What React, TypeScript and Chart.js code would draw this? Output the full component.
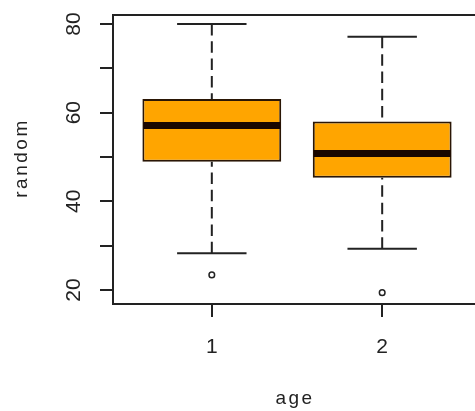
import React, { useEffect, useRef } from "react";
import { Chart, registerables } from "chart.js";

Chart.register(...registerables);

const CATEGORIES = ["1", "2"];
const WHISKER_LOW = [28.3, 29.3];
const Q1 = [48.9, 45.3];
const MEDIAN = [57.1, 50.8];
const Q3 = [63.1, 58.0];
const WHISKER_HIGH = [80.0, 77.1];
const OUTLIERS = [[23.4], [19.4]];
const Y_TICKS = [20, 30, 40, 50, 60, 70, 80];
const Y_LABELED = [20, 40, 60, 80];
const X_TITLE = "age";
const Y_TITLE = "random";

const FONT = '"Liberation Sans", Arial, sans-serif';
const INK = "#222222";

const boxParts = {
  id: "boxParts",
  afterDatasetsDraw(chart: any) {
    const { ctx, scales } = chart;
    const x = scales.x;
    const y = scales.y;
    const meta = chart.getDatasetMeta(0);
    const line = (x1: number, y1: number, x2: number, y2: number) => {
      ctx.beginPath();
      ctx.moveTo(x1, y1);
      ctx.lineTo(x2, y2);
      ctx.stroke();
    };
    ctx.save();
    ctx.lineCap = "butt";
    CATEGORIES.forEach((_, i) => {
      const bar = meta.data[i];
      const half = bar.width / 2;
      const cx = x.getPixelForValue(i + 1);
      const yHi = y.getPixelForValue(WHISKER_HIGH[i]);
      const yLo = y.getPixelForValue(WHISKER_LOW[i]);
      const yQ1 = y.getPixelForValue(Q1[i]);
      const yQ3 = y.getPixelForValue(Q3[i]);
      const yMed = y.getPixelForValue(MEDIAN[i]);
      ctx.strokeStyle = INK;
      ctx.lineWidth = 2;
      ctx.setLineDash([11.5, 5.8]);
      line(cx, yHi, cx, yQ3);
      line(cx, yLo, cx, yQ1);
      ctx.setLineDash([]);
      line(cx - half / 2, yHi, cx + half / 2, yHi);
      line(cx - half / 2, yLo, cx + half / 2, yLo);
      ctx.strokeStyle = "#1a0700";
      ctx.lineWidth = 7;
      line(cx - half + 1, yMed, cx + half - 1, yMed);
    });
    ctx.restore();
  },
  afterDraw(chart: any) {
    const { ctx, chartArea, scales } = chart;
    const x = scales.x;
    const y = scales.y;
    ctx.save();
    // frame
    ctx.strokeStyle = INK;
    ctx.lineWidth = 2;
    ctx.strokeRect(
      chartArea.left,
      chartArea.top,
      chartArea.right - chartArea.left,
      chartArea.bottom - chartArea.top
    );
    ctx.fillStyle = INK;
    // y tick labels (rotated)
    ctx.font = `21px ${FONT}`;
    ctx.textAlign = "center";
    ctx.textBaseline = "alphabetic";
    Y_LABELED.forEach((v) => {
      ctx.save();
      ctx.translate(80, y.getPixelForValue(v));
      ctx.rotate(-Math.PI / 2);
      ctx.fillText(String(v), 0, 0);
      ctx.restore();
    });
    // x tick labels
    CATEGORIES.forEach((c, i) => {
      ctx.fillText(c, x.getPixelForValue(i + 1), 353);
    });
    // titles
    ctx.font = `19px ${FONT}`;
    (ctx as any).letterSpacing = "2.5px";
    ctx.fillText(X_TITLE, (chartArea.left + chartArea.right) / 2 - 2, 404);
    ctx.save();
    ctx.translate(27, (chartArea.top + chartArea.bottom) / 2);
    ctx.rotate(-Math.PI / 2);
    ctx.fillText(Y_TITLE, 1.5, 0);
    ctx.restore();
    ctx.restore();
  },
};

export default function App() {
  const ref = useRef<HTMLCanvasElement | null>(null);
  useEffect(() => {
    if (!ref.current) return;
    const chart = new Chart(ref.current, {
      type: "bar",
      data: {
        datasets: [
          {
            type: "bar",
            label: "box",
            data: CATEGORIES.map((_, i) => ({ x: i + 1, y: [Q1[i], Q3[i]] })) as any,
            backgroundColor: "#FFA500",
            borderColor: "#2a1605",
            borderWidth: 2,
            borderSkipped: false,
            barPercentage: 0.815,
            categoryPercentage: 1,
          } as any,
          {
            type: "scatter",
            label: "outliers",
            data: OUTLIERS.flatMap((arr, i) => arr.map((v) => ({ x: i + 1, y: v }))),
            pointStyle: "circle",
            pointRadius: 2.8,
            pointBorderWidth: 1.5,
            pointBorderColor: INK,
            pointBackgroundColor: "rgba(255,255,255,0)",
          } as any,
        ],
      },
      options: {
        responsive: false,
        devicePixelRatio: 1,
        animation: false,
        layout: { padding: { left: 0, top: 15, right: 9, bottom: 0 } },
        plugins: { legend: { display: false }, tooltip: { enabled: false } },
        scales: {
          x: {
            type: "linear",
            min: 0.42,
            max: 2.58,
            offset: false,
            afterBuildTicks: (s: any) => {
              s.ticks = CATEGORIES.map((_, i) => ({ value: i + 1 }));
            },
            afterFit: (s: any) => {
              s.height = 107;
            },
            grid: {
              offset: false,
              drawOnChartArea: false,
              drawTicks: true,
              tickLength: 13,
              color: INK,
              lineWidth: 2,
            },
            border: { display: false },
            ticks: { display: false },
          },
          y: {
            type: "linear",
            min: 16.84,
            max: 82.03,
            afterBuildTicks: (s: any) => {
              s.ticks = Y_TICKS.map((v) => ({ value: v }));
            },
            afterFit: (s: any) => {
              s.width = 113;
            },
            grid: {
              drawOnChartArea: false,
              drawTicks: true,
              tickLength: 13,
              color: INK,
              lineWidth: 2,
            },
            border: { display: false },
            ticks: { display: false },
          },
        },
      } as any,
      plugins: [boxParts],
    });
    return () => chart.destroy();
  }, []);
  return (
    <div
      style={{
        position: "fixed",
        left: 0,
        top: 0,
        width: 475,
        height: 411,
        overflow: "hidden",
        background: "#fff",
      }}
    >
      <canvas ref={ref} width={490} height={411} style={{ display: "block", width: 490, height: 411 }} />
    </div>
  );
}
